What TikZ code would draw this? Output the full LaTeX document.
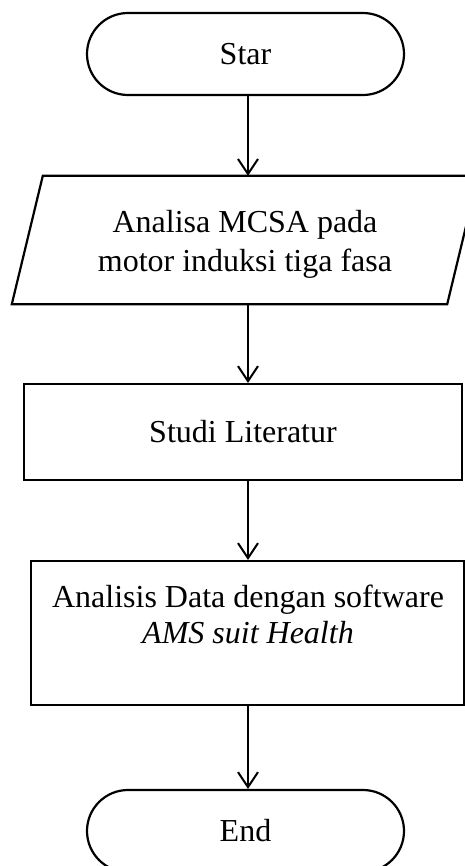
\documentclass[tikz,border=0pt]{standalone}
\usepackage{fontspec}
\setmainfont{Liberation Serif}
\usetikzlibrary{arrows.meta}
\begin{document}
\begin{tikzpicture}[x=1pt,y=-1pt,
  every node/.style={font=\fontsize{32}{36}\selectfont},
  shp/.style={draw=black, line width=2.2pt, inner sep=0pt},
  term/.style={shp, rounded corners=41pt, minimum width=317pt, minimum height=82pt},
  boxn/.style={shp, rectangle},
  arr/.style={draw=black, line width=2pt, -{Straight Barb[length=15pt,width=20pt,line width=2pt]}}]
\path[use as bounding box, clip] (0,0) rectangle (465,866);
\coordinate (ax) at (248,0);
\node[term] (start) at (245.5,54) {Star};
\node[inner sep=0pt, minimum width=404pt, minimum height=128pt] (inp) at (245,240) {};
\node[inner sep=0pt, align=center, font=\fontsize{32}{39}\selectfont] (inptxt) at (245,244) {Analisa MCSA pada\\motor induksi tiga fasa};
\draw[line width=2.2pt, line join=miter] (inp.north west) -- ([xshift=31pt]inp.north east) -- (inp.south east) -- ([xshift=-31pt]inp.south west) -- cycle;
\node[boxn, minimum width=438pt, minimum height=96pt] (lit) at (243,432) {Studi Literatur};
\node[boxn, minimum width=433pt, minimum height=144pt] (ana) at (247.5,633) {};
\node[anchor=north, inner sep=0pt, align=center] (anatxt) at (248,585) {Analisis Data dengan software\\\itshape AMS suit Health};
\node[term] (stop) at (245.5,831) {End};
\draw[arr] (start.south -| ax) -- (inp.north -| ax);
\draw[arr] (inp.south -| ax) -- (lit.north -| ax);
\draw[arr] (lit.south -| ax) -- (ana.north -| ax);
\draw[arr] (ana.south -| ax) -- (stop.north -| ax);
\end{tikzpicture}
\end{document}
